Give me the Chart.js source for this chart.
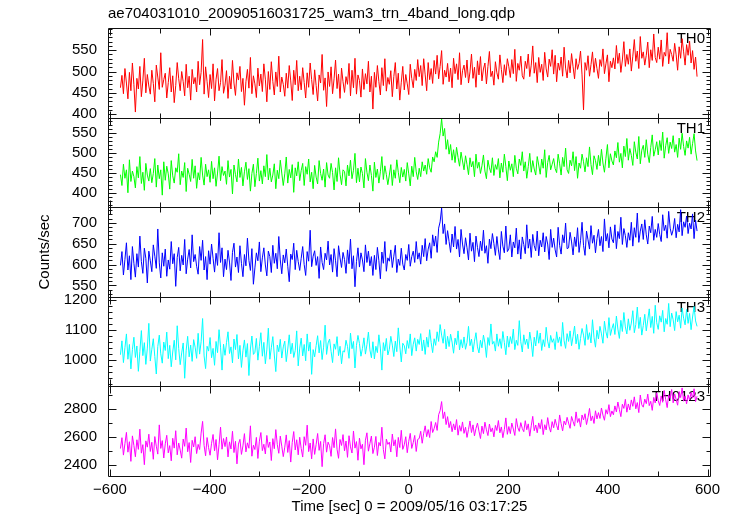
<!DOCTYPE html>
<html>
<head>
<meta charset="utf-8">
<script src="https://cdn.jsdelivr.net/npm/chart.js@4.4.1/dist/chart.umd.min.js"></script>
<style>
  html, body { margin: 0; padding: 0; background: #fff; }
</style>
</head>
<body>
<canvas id="lightCurve" width="733" height="516"></canvas>
<script>
// 3 s bins, time in sec from 2009/05/16 03:17:25
const times = [
  -579,-576,-573,-570,-567,-564,-561,-558,-555,-552,
  -549,-546,-543,-540,-537,-534,-531,-528,-525,-522,
  -519,-516,-513,-510,-507,-504,-501,-498,-495,-492,
  -489,-486,-483,-480,-477,-474,-471,-468,-465,-462,
  -459,-456,-453,-450,-447,-444,-441,-438,-435,-432,
  -429,-426,-423,-420,-417,-414,-411,-408,-405,-402,
  -399,-396,-393,-390,-387,-384,-381,-378,-375,-372,
  -369,-366,-363,-360,-357,-354,-351,-348,-345,-342,
  -339,-336,-333,-330,-327,-324,-321,-318,-315,-312,
  -309,-306,-303,-300,-297,-294,-291,-288,-285,-282,
  -279,-276,-273,-270,-267,-264,-261,-258,-255,-252,
  -249,-246,-243,-240,-237,-234,-231,-228,-225,-222,
  -219,-216,-213,-210,-207,-204,-201,-198,-195,-192,
  -189,-186,-183,-180,-177,-174,-171,-168,-165,-162,
  -159,-156,-153,-150,-147,-144,-141,-138,-135,-132,
  -129,-126,-123,-120,-117,-114,-111,-108,-105,-102,
  -99,-96,-93,-90,-87,-84,-81,-78,-75,-72,
  -69,-66,-63,-60,-57,-54,-51,-48,-45,-42,
  -39,-36,-33,-30,-27,-24,-21,-18,-15,-12,
  -9,-6,-3,0,3,6,9,12,15,18,
  21,24,27,30,33,36,39,42,45,48,
  51,54,57,60,63,66,69,72,75,78,
  81,84,87,90,93,96,99,102,105,108,
  111,114,117,120,123,126,129,132,135,138,
  141,144,147,150,153,156,159,162,165,168,
  171,174,177,180,183,186,189,192,195,198,
  201,204,207,210,213,216,219,222,225,228,
  231,234,237,240,243,246,249,252,255,258,
  261,264,267,270,273,276,279,282,285,288,
  291,294,297,300,303,306,309,312,315,318,
  321,324,327,330,333,336,339,342,345,348,
  351,354,357,360,363,366,369,372,375,378,
  381,384,387,390,393,396,399,402,405,408,
  411,414,417,420,423,426,429,432,435,438,
  441,444,447,450,453,456,459,462,465,468,
  471,474,477,480,483,486,489,492,495,498,
  501,504,507,510,513,516,519,522,525,528,
  531,534,537,540,543,546,549,552,555,558,
  561,564,567,570,573,576,579
];

const th0 = [
  462,491,448,507,473,436,498,455,520,469,
  405,484,459,512,441,478,531,450,493,466,
  447,503,472,429,515,487,458,544,463,481,
  496,438,474,509,452,490,427,467,521,483,
  455,500,476,443,517,462,489,433,505,471,
  486,452,524,469,498,575,447,511,476,439,
  493,460,518,431,482,507,455,474,528,449,
  468,502,437,489,459,526,473,444,497,480,
  512,453,484,421,476,505,461,533,448,490,
  471,439,508,466,494,453,518,482,429,500,
  458,523,477,445,499,465,536,452,487,470,
  442,496,461,514,478,432,503,469,526,455,
  489,457,509,474,438,497,463,520,481,446,
  504,467,431,492,473,540,456,485,418,499,
  465,511,448,483,527,460,494,437,508,476,
  451,488,470,519,443,503,462,531,447,492,
  479,440,506,458,495,471,524,452,489,412,
  498,463,514,476,445,509,467,530,454,486,
  470,502,441,488,521,459,496,433,475,512,
  457,493,471,446,517,484,462,505,479,528,
  488,514,467,530,492,455,521,481,507,472,
  526,494,538,483,512,549,470,503,487,519,
  476,508,462,531,495,518,481,544,469,502,
  515,486,527,473,499,541,484,510,463,525,
  492,535,478,506,520,471,512,547,488,501,
  468,523,497,482,539,505,474,516,491,530,
  511,486,528,495,552,477,519,503,536,490,
  482,524,507,541,488,515,560,496,521,474,
  533,498,517,479,545,506,487,529,512,551,
  494,538,476,520,503,534,489,557,508,485,
  526,497,542,511,483,530,505,519,548,492,
  410,521,503,537,489,516,546,498,531,507,
  484,528,512,553,495,518,539,476,524,509,
  532,506,561,519,543,498,527,570,512,540,
  517,553,501,536,575,524,548,507,582,531,
  546,515,538,569,509,551,526,588,533,521,
  557,529,574,512,545,536,591,518,552,540,
  524,566,539,503,558,531,577,546,515,563,
  538,571,520,549,505,534,488
];

const th1 = [
  446,419,472,437,458,401,483,429,455,441,
  413,466,438,491,424,452,407,474,445,430,
  461,426,449,486,415,470,436,458,395,478,
  432,467,448,410,481,443,425,463,452,498,
  421,455,439,476,404,462,447,429,484,437,
  468,412,451,433,489,445,420,472,441,458,
  427,479,436,463,417,450,492,431,466,444,
  455,422,481,440,459,398,470,446,428,485,
  439,464,418,453,477,434,461,405,449,472,
  416,449,487,430,456,423,468,441,496,433,
  462,428,445,473,411,457,436,482,450,419,
  448,490,425,459,438,471,402,463,443,478,
  431,456,474,419,466,447,485,428,452,411,
  469,440,423,481,449,432,460,415,476,445,
  437,474,451,408,463,429,488,447,421,458,
  454,418,470,443,482,436,457,499,426,462,
  428,465,449,413,486,452,431,470,444,405,
  477,439,460,425,453,491,434,468,446,421,
  445,471,419,458,437,483,452,426,464,440,
  459,430,476,448,418,467,441,489,453,434,
  462,441,478,455,470,447,486,463,452,490,
  478,503,489,527,548,585,542,561,509,533,
  497,521,482,508,476,514,489,467,502,480,
  458,493,471,446,488,465,479,441,497,462,
  477,449,468,495,455,436,482,463,451,488,
  444,471,459,486,438,475,452,497,466,431,
  480,457,473,441,494,462,448,485,469,503,
  455,478,437,466,499,452,481,460,445,491,
  470,447,485,462,508,439,476,494,458,472,
  486,461,451,497,473,445,489,466,512,458,
  449,482,468,503,456,491,437,475,462,497,
  478,453,488,466,515,471,446,493,481,459,
  494,468,509,475,452,487,521,463,498,480,
  470,505,488,526,477,499,463,517,491,536,
  482,511,494,469,528,502,485,541,473,507,
  519,489,533,497,476,514,545,492,508,528,
  495,531,506,552,487,518,538,499,527,511,
  543,502,521,489,537,509,549,516,494,530,
  512,539,497,523,548,505,481
];

const th2 = [
  598,631,575,612,652,587,621,564,643,603,
  570,626,594,668,607,579,639,615,556,632,
  609,583,647,620,591,685,604,568,628,596,
  637,572,611,589,655,602,626,548,617,641,
  585,622,599,660,578,613,636,592,671,607,
  624,596,577,643,610,658,587,619,564,633,
  601,649,615,582,627,598,676,605,640,571,
  613,588,634,606,562,629,651,594,618,581,
  645,603,571,624,597,663,610,586,638,553,
  592,628,609,654,583,616,640,599,573,632,
  619,581,646,603,627,590,667,611,578,623,
  604,637,596,559,625,612,651,588,634,607,
  586,615,643,600,574,631,608,682,595,620,
  633,598,619,567,642,605,588,627,611,656,
  599,624,582,638,609,571,645,616,593,629,
  612,579,635,602,661,590,621,547,607,640,
  594,628,611,583,647,605,632,597,619,574,
  622,588,641,609,566,630,603,655,584,616,
  608,635,593,620,646,581,613,598,639,601,
  587,624,610,648,596,619,632,605,655,613,
  628,601,646,619,662,609,637,652,615,671,
  644,668,629,687,702,735,674,697,648,681,
  655,629,673,642,691,637,660,618,684,649,
  626,664,640,611,675,632,653,607,668,641,
  619,656,633,682,627,645,603,661,638,674,
  650,622,667,635,612,679,644,628,692,631,
  637,671,618,654,640,687,625,659,613,666,
  648,626,695,639,661,617,672,645,633,680,
  621,658,642,676,630,667,649,612,684,641,
  663,635,618,689,646,625,671,652,699,638,
  640,677,654,623,666,643,688,629,657,701,
  646,622,680,659,637,693,651,670,628,662,
  684,645,667,631,709,656,674,640,690,661,
  652,695,638,679,662,713,648,686,669,641,
  676,658,701,644,688,665,723,653,680,697,
  660,707,671,649,692,676,715,658,684,665,
  698,672,655,719,681,694,663,727,687,670,
  683,710,664,696,678,731,669,702,689,716,
  674,699,685,721,662,706,680
];

const th3 = [
  1018,1064,992,1041,1087,1003,1052,971,1035,1076,
  1009,1047,963,1029,1098,1015,1058,986,1040,1122,
  997,1036,1071,1012,954,1045,1083,1021,990,1060,
  1032,1093,1005,1049,978,1027,1066,1001,1114,1038,
  985,1024,1057,940,1033,1079,1011,1050,996,1068,
  1043,1006,1089,1020,1061,1138,1014,972,1046,1030,
  1075,1008,1039,983,1062,1025,1101,1043,967,1053,
  1016,1058,1094,1022,1044,991,1070,1035,1085,1004,
  1049,976,1031,1067,1010,1055,949,1037,1080,1019,
  1026,1072,1000,1046,1091,1013,1059,988,1034,1106,
  1003,1041,1078,1017,962,1050,1028,1069,1007,1044,
  1063,995,1037,1084,1021,1056,1009,1032,1097,981,
  1040,1073,1014,1052,998,1087,1030,1060,953,1035,
  1011,1048,1081,1024,1065,1002,1043,1116,1019,1057,
  1070,1029,992,1054,1036,1078,1015,1046,988,1031,
  1027,1066,1045,1006,1090,1038,1062,974,1049,1082,
  1055,1013,1039,1074,1020,1051,1093,1034,1008,1061,
  1004,1046,1025,1084,1040,967,1058,1031,1072,1017,
  1036,1079,1050,1012,1063,1028,1107,1047,994,1056,
  1048,1021,1065,1039,1087,1015,1053,1074,1030,1069,
  1052,1088,1031,1067,1019,1076,1043,1101,1058,1025,
  1071,1049,1094,1062,1118,1083,1056,1102,1037,1079,
  1045,1086,1060,1023,1073,1051,1097,1034,1068,1041,
  1077,1036,1059,1112,1048,1070,1027,1063,1091,1044,
  1024,1066,1041,1083,1057,1009,1075,1049,1120,1053,
  1062,1030,1087,1046,1071,1039,1095,1058,1018,1080,
  1043,1078,1055,1103,1035,1066,1049,1131,1061,1027,
  1084,1052,1070,1038,1093,1061,1012,1076,1047,1098,
  1056,1090,1032,1068,1045,1109,1063,1040,1082,1059,
  1071,1035,1094,1058,1077,1046,1125,1064,1039,1088,
  1062,1097,1048,1079,1113,1054,1086,1036,1072,1105,
  1083,1049,1118,1068,1091,1057,1134,1076,1043,1099,
  1070,1112,1087,1056,1129,1094,1073,1141,1082,1104,
  1121,1085,1146,1103,1072,1132,1095,1158,1110,1087,
  1137,1099,1123,1164,1091,1118,1176,1105,1142,1083,
  1115,1152,1097,1133,1170,1108,1145,1089,1182,1124,
  1102,1147,1126,1165,1094,1138,1119,1188,1111,1156,
  1134,1098,1161,1127,1149,1106,1173,1139,1117,1168,
  1122,1155,1101,1143,1178,1130,1112
];

const th0123 = [
  2518,2596,2471,2553,2634,2492,2567,2426,2609,2540,
  2459,2581,2512,2657,2485,2546,2402,2573,2528,2621,
  2497,2563,2441,2604,2535,2478,2688,2519,2575,2450,
  2552,2613,2487,2539,2430,2592,2521,2646,2473,2558,
  2507,2449,2586,2534,2665,2495,2561,2418,2577,2529,
  2603,2482,2548,2511,2629,2713,2540,2466,2597,2524,
  2470,2556,2619,2501,2583,2437,2545,2672,2513,2590,
  2532,2601,2458,2566,2515,2642,2489,2570,2408,2550,
  2584,2476,2537,2625,2494,2559,2520,2681,2463,2542,
  2511,2598,2447,2571,2633,2503,2549,2479,2612,2526,
  2565,2432,2589,2517,2654,2546,2484,2607,2535,2460,
  2528,2616,2490,2575,2421,2562,2640,2508,2581,2473,
  2599,2519,2457,2603,2541,2686,2496,2558,2444,2587,
  2476,2547,2626,2505,2569,2388,2553,2617,2492,2564,
  2538,2462,2597,2524,2659,2513,2448,2583,2540,2618,
  2501,2572,2455,2610,2530,2486,2644,2521,2568,2434,
  2593,2516,2549,2402,2578,2631,2499,2555,2608,2482,
  2527,2605,2468,2562,2536,2671,2510,2444,2586,2548,
  2564,2493,2622,2537,2581,2459,2598,2525,2649,2512,
  2545,2603,2488,2570,2627,2519,2561,2612,2497,2584,
  2590,2642,2556,2628,2681,2603,2654,2597,2712,2633,
  2662,2705,2648,2761,2790,2855,2733,2781,2690,2747,
  2668,2712,2639,2695,2651,2726,2614,2683,2642,2709,
  2627,2671,2598,2655,2716,2633,2688,2609,2662,2701,
  2643,2590,2679,2625,2707,2652,2611,2694,2638,2666,
  2602,2684,2647,2719,2631,2673,2596,2655,2738,2620,
  2676,2625,2701,2658,2612,2733,2669,2641,2704,2662,
  2639,2718,2653,2695,2607,2681,2749,2646,2687,2631,
  2702,2660,2726,2618,2689,2652,2740,2673,2636,2711,
  2667,2728,2684,2651,2759,2697,2645,2715,2688,2742,
  2701,2663,2748,2712,2679,2781,2705,2734,2672,2759,
  2723,2768,2690,2741,2806,2717,2752,2698,2789,2731,
  2776,2734,2809,2758,2721,2797,2765,2833,2747,2788,
  2760,2824,2781,2852,2799,2747,2836,2806,2871,2779,
  2838,2795,2867,2821,2889,2803,2848,2776,2902,2832,
  2815,2873,2840,2909,2826,2857,2792,2885,2845,2918,
  2861,2827,2896,2850,2935,2869,2812,2904,2877,2942,
  2846,2911,2870,2829,2927,2884,2953,2858,2896,2839,
  2903,2866,2921,2880,2947,2855,2893
];

const bandNames = ['TH0', 'TH1', 'TH2', 'TH3', 'TH0123'];
const bandColors = ['#ff0000', '#00ff00', '#0000ff', '#00ffff', '#ff00ff'];
const series = [th0, th1, th2, th3, th0123];

// axis ranges and tick labels for each panel, top to bottom
const yMins = [392, 365, 523, 913, 2321];
const yMaxs = [602, 588, 737, 1210, 2964];
const yTicks = [
  [400, 450, 500, 550],
  [400, 450, 500, 550],
  [550, 600, 650, 700],
  [1000, 1100, 1200],
  [2400, 2600, 2800]
];
const yMinorSteps = [10, 10, 10, 20, 100];
const xTicks = [-600, -400, -200, 0, 200, 400, 600];

Chart.defaults.font.family = '"Liberation Sans", Arial, sans-serif';
Chart.defaults.font.size = 15;
Chart.defaults.color = '#000';

const scales = {
  x: {
    type: 'linear',
    position: 'bottom',
    min: -604,
    max: 607,
    bounds: 'data',
    afterBuildTicks: function(scale) {
      scale.ticks = xTicks.map(v => ({ value: v }));
    },
    afterFit: function(scale) {
      scale.height = 40;
    },
    grid: { display: false, drawTicks: false },
    border: { display: false },
    ticks: {
      padding: 5,
      maxRotation: 0,
      autoSkip: false,
      callback: v => (v < 0 ? '\u2212' + (-v) : String(v))
    },
    title: {
      display: true,
      text: 'Time [sec] 0 = 2009/05/16 03:17:25',
      padding: { top: 0, bottom: 0 }
    }
  }
};

// stacked panels: last defined axis ends up on top
for (let i = 4; i >= 0; i--) {
  scales['y' + i] = {
    type: 'linear',
    position: 'left',
    stack: 'panels',
    stackWeight: 1,
    min: yMins[i],
    max: yMaxs[i],
    bounds: 'data',
    afterBuildTicks: function(scale) {
      scale.ticks = yTicks[i].map(v => ({ value: v }));
    },
    afterFit: function(scale) {
      scale.width = 108;
    },
    grid: { display: false, drawTicks: false },
    border: { display: false },
    ticks: {
      padding: 11,
      autoSkip: false,
      callback: v => String(v)
    },
    title: {
      display: i === 2,
      text: 'Counts/sec',
      padding: { top: 36, bottom: 0 }
    }
  };
}

const panelFrame = {
  id: 'panelFrame',
  beforeDatasetsDraw(chart) {
    const ctx = chart.ctx;
    const area = chart.chartArea;
    ctx.save();
    ctx.fillStyle = '#000';
    ctx.font = '15px "Liberation Sans", Arial, sans-serif';
    ctx.textAlign = 'right';
    ctx.textBaseline = 'alphabetic';
    for (let i = 0; i < 5; i++) {
      const ys = chart.scales['y' + i];
      ctx.fillText(bandNames[i], area.right - 6, ys.top + 15);
    }
    ctx.restore();
  },
  afterDatasetsDraw(chart) {
    const ctx = chart.ctx;
    const area = chart.chartArea;
    const xs = chart.scales.x;
    ctx.save();
    ctx.strokeStyle = '#111';
    ctx.lineWidth = 1;
    ctx.beginPath();
    for (let i = 0; i < 5; i++) {
      const ys = chart.scales['y' + i];
      const top = Math.round(ys.top) + 0.5;
      const bot = Math.round(ys.bottom) + 0.5;
      const left = Math.round(area.left) + 0.5;
      const right = Math.round(area.right) - 0.5;
      ctx.rect(left, top, right - left, bot - top);

      // y ticks, inward on both sides
      const step = yMinorSteps[i];
      for (let v = Math.ceil(yMins[i] / step) * step; v <= yMaxs[i]; v += step) {
        const len = yTicks[i].includes(v) ? 8 : 4;
        const py = Math.round(ys.getPixelForValue(v)) + 0.5;
        ctx.moveTo(left, py); ctx.lineTo(left + len, py);
        ctx.moveTo(right, py); ctx.lineTo(right - len, py);
      }

      // x ticks at the top and bottom of each panel
      for (let v = -600; v <= 600; v += 100) {
        const len = xTicks.includes(v) ? 7 : 5;
        const px = Math.round(xs.getPixelForValue(v)) + 0.5;
        ctx.moveTo(px, top); ctx.lineTo(px, top + len);
        ctx.moveTo(px, bot); ctx.lineTo(px, bot - len);
      }
    }
    ctx.stroke();
    ctx.restore();
  }
};

const chart = new Chart(document.getElementById('lightCurve').getContext('2d'), {
  type: 'line',
  data: {
    datasets: series.map((vals, i) => ({
      label: bandNames[i],
      data: times.map((t, k) => ({ x: t, y: vals[k] })),
      xAxisID: 'x',
      yAxisID: 'y' + i,
      borderColor: bandColors[i],
      borderWidth: 1,
      pointRadius: 0,
      fill: false,
      tension: 0
    }))
  },
  options: {
    responsive: false,
    animation: false,
    layout: { padding: { left: 0, right: 22, top: 0, bottom: 0 } },
    scales: scales,
    plugins: {
      legend: { display: false },
      tooltip: { enabled: false },
      title: {
        display: true,
        text: 'ae704031010_20090516031725_wam3_trn_4band_long.qdp',
        align: 'start',
        fullSize: false,
        color: '#000',
        font: { size: 15, weight: 'normal' },
        padding: { top: 5, bottom: 5 }
      }
    }
  },
  plugins: [panelFrame]
});
</script>
</body>
</html>
